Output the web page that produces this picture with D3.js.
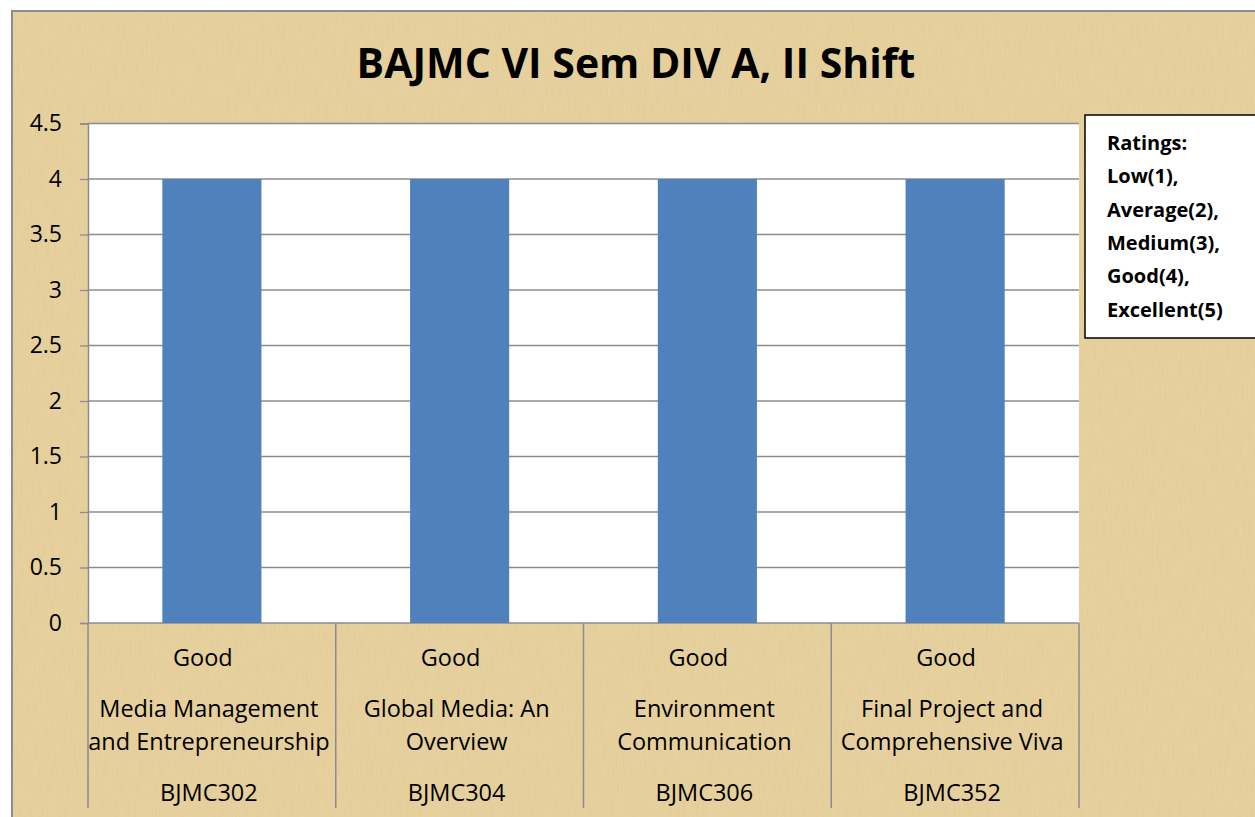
<!DOCTYPE html>
<html><head><meta charset="utf-8">
<script src="https://cdn.jsdelivr.net/npm/d3@7"></script>
<style>body{margin:0;background:#fff;}svg{display:block;}</style>
</head><body>
<svg id="c" width="1255" height="817"></svg>
<script>
const categories = ["BJMC302","BJMC304","BJMC306","BJMC352"];
const subjects = [["Media Management","and Entrepreneurship"],["Global Media: An","Overview"],["Environment","Communication"],["Final Project and","Comprehensive Viva"]];
const ratingLabels = ["Good","Good","Good","Good"];
const values = [4,4,4,4];
const yTicks = [0,0.5,1,1.5,2,2.5,3,3.5,4,4.5];
const title = "BAJMC VI Sem DIV A, II Shift";
const legendLines = ["Ratings:","Low(1),","Average(2),","Medium(3),","Good(4),","Excellent(5)"];

const svg = d3.select("#c");
const font = "'Open Sans', Lato, sans-serif";
const defs = svg.append("defs");
const f = defs.append("filter").attr("id","tex").attr("x",0).attr("y",0).attr("width","100%").attr("height","100%");
f.append("feTurbulence").attr("type","fractalNoise").attr("baseFrequency","0.9 0.05").attr("numOctaves",2).attr("seed",3).attr("result","n");
f.append("feColorMatrix").attr("in","n").attr("type","matrix")
 .attr("values","0 0 0 0 0.55  0 0 0 0 0.45  0 0 0 0 0.25  0 0 0 0.35 0").attr("result","c");
f.append("feComposite").attr("in","c").attr("in2","SourceGraphic").attr("operator","in");

// background
svg.append("rect").attr("x",12).attr("y",11).attr("width",1250).attr("height",820).attr("fill","#e9d39f");
svg.append("rect").attr("x",12).attr("y",11).attr("width",1250).attr("height",820).attr("fill","#e9d39f").attr("filter","url(#tex)").attr("opacity",0.6);
svg.append("rect").attr("x",12).attr("y",11).attr("width",1250).attr("height",820).attr("fill","none").attr("stroke","#8c8c8c").attr("stroke-width",2);

const L=88,R=1079,T=123.5,B=623;
const x = d3.scaleBand().domain(categories).range([L,R]).paddingInner(0.6).paddingOuter(0.3);
const y = d3.scaleLinear().domain([0,4.5]).range([B,T]);

svg.append("rect").attr("x",L).attr("y",T).attr("width",R-L).attr("height",B-T).attr("fill","#fff");

// gridlines
svg.append("g").selectAll("line").data(yTicks).join("line")
 .attr("x1",L).attr("x2",R).attr("y1",d=>y(d)).attr("y2",d=>y(d))
 .attr("stroke","#8c8c8c").attr("stroke-width",1.3);

// bars
svg.append("g").selectAll("rect").data(values).join("rect")
 .attr("x",(d,i)=>x(categories[i])).attr("width",x.bandwidth())
 .attr("y",d=>y(d)).attr("height",d=>y(0)-y(d)).attr("fill","#4f81bd");

// y axis
const ya = svg.append("g").attr("transform",`translate(${L},0)`)
 .call(d3.axisLeft(y).tickValues(yTicks).tickSize(8).tickPadding(18).tickFormat(d=>String(d)));
ya.select(".domain").attr("stroke","#8c8c8c").attr("stroke-width",1.5);
ya.selectAll(".tick line").attr("stroke","#8c8c8c").attr("stroke-width",1.3);
ya.selectAll("text").attr("font-family",font).attr("font-size",23).attr("fill","#000");

// x axis separators
const step = x.step();
const seps = d3.range(categories.length+1).map(i=>L + i*step);
svg.append("g").selectAll("line").data(seps).join("line")
 .attr("x1",d=>d).attr("x2",d=>d).attr("y1",B).attr("y2",808)
 .attr("stroke","#8c8c8c").attr("stroke-width",1.5);

const cx = c => x(c)+x.bandwidth()/2 - 3;
const lab = svg.append("g").attr("font-family",font).attr("font-size",23.5).attr("fill","#000").attr("text-anchor","middle");
categories.forEach((c,i)=>{
  lab.append("text").attr("x",cx(c)-6).attr("y",666).text(ratingLabels[i]);
  lab.append("text").attr("x",cx(c)).attr("y",717).text(subjects[i][0]);
  lab.append("text").attr("x",cx(c)).attr("y",750).text(subjects[i][1]);
  lab.append("text").attr("x",cx(c)).attr("y",801).text(c);
});

// title
svg.append("text").attr("x",636).attr("y",78).attr("text-anchor","middle")
 .attr("font-family",font).attr("font-weight","bold").attr("font-size",41).text(title);

// legend
svg.append("rect").attr("x",1085).attr("y",115).attr("width",180).attr("height",223)
 .attr("fill","#fff").attr("stroke","#000").attr("stroke-width",1.5);
svg.append("g").selectAll("text").data(legendLines).join("text")
 .attr("x",1107).attr("y",(d,i)=>150+i*33.3).attr("font-family",font).attr("font-weight","bold").attr("font-size",20).text(d=>d);
</script>
</body></html>
